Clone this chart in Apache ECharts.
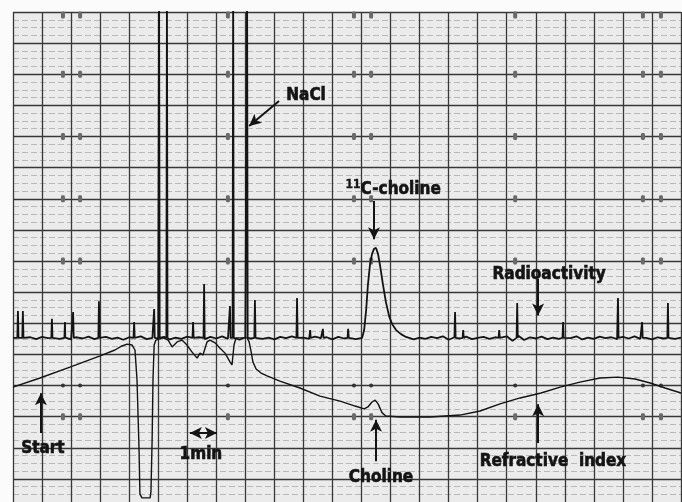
<!DOCTYPE html>
<html>
<head>
<meta charset="utf-8">
<title>11C-choline chromatogram</title>
<script src="https://cdn.jsdelivr.net/npm/echarts@6/dist/echarts.min.js"></script>
<style>
  html, body { margin: 0; padding: 0; background: #fbfbfb; }
  #chart { width: 682px; height: 502px; }
</style>
</head>
<body>
<div id="chart"></div>
<script>
// x: minutes (one chart division = 1 min), y: chart divisions from the bottom
var timeMax = 23
var levelMax = 16

var radioStep = 0.2
var radioBase = [
  5.53, 5.57, 5.50, 5.55, 5.49, 5.56, 5.52, 5.58, 5.50, 5.54,
  5.48, 5.55, 5.51, 5.57, 5.49, 5.53, 5.56, 5.50, 5.54, 5.47,
  5.55, 5.52, 5.58, 5.49, 5.53, 5.51, 5.56, 5.48, 5.54, 5.50,
  5.57, 5.52, 5.55, 5.49, 5.56, 5.51, 5.58, 5.50, 5.53, 5.47,
  5.55, 5.51, 5.57, 5.50, 5.54, 5.48, 5.56, 5.52, 5.58, 5.49,
  5.54, 5.50, 5.57, 5.52, 5.55, 5.48, 5.56, 5.51, 5.53, 5.49,
  5.55, 5.52, 5.57, 5.50, 5.54, 5.49, 5.56, 5.51, 5.58, 5.48,
  5.54, 5.50, 5.56, 5.52, 5.58, 5.47, 5.55, 5.51, 5.57, 5.49,
  5.53, 5.56, 5.50, 5.55, 5.49, 5.58, 5.44, 5.60, 5.46, 5.55,
  5.51, 5.57, 5.49, 5.54, 5.50, 5.56, 5.52, 5.58, 5.48, 5.54,
  5.50, 5.57, 5.52, 5.55, 5.49, 5.56, 5.51, 5.58, 5.50, 5.53,
  5.48, 5.55, 5.51, 5.57, 5.50, 5.54
]
var peakFrom = 11.99
var peakTo = 13.61

// 11C-choline peak [min, level]
var cholinePeak = [
  [12.02, 5.53], [12.09, 5.78], [12.16, 6.43], [12.22, 7.23], [12.29, 7.87],
  [12.36, 8.22], [12.43, 8.39], [12.50, 8.42], [12.57, 8.22], [12.64, 7.84],
  [12.74, 7.23], [12.84, 6.68], [12.95, 6.23], [13.05, 5.98], [13.19, 5.78],
  [13.36, 5.65], [13.53, 5.56]
]

// short spikes on the radioactivity trace [min, top]; 17 = off the paper (NaCl)
var spikeFloor = 5.53
var radioSpikes = [
  [0.17, 6.39], [0.34, 6.39], [1.34, 6.14], [1.79, 6.04], [2.07, 6.36],
  [2.96, 6.71], [4.17, 6.04], [4.86, 6.46], [5.03, 17], [5.30, 17],
  [6.20, 6.04], [6.58, 7.26], [7.47, 6.55], [7.58, 17], [8.06, 17],
  [8.33, 6.75], [9.78, 6.81], [10.23, 5.78], [10.67, 5.82], [11.54, 5.82],
  [15.22, 6.36], [15.50, 5.78], [16.74, 5.78], [17.36, 6.65], [18.94, 6.04],
  [20.83, 6.81], [21.66, 6.04], [22.55, 6.65]
]

// refractive index trace [min, level]
var refractive = [
  [0, 3.95], [0.93, 4.24], [1.96, 4.59], [3.00, 4.95], [3.51, 5.14],
  [3.75, 5.27], [3.93, 5.33], [4.10, 5.30], [4.20, 5.14], [4.27, 4.18],
  [4.34, 1.93], [4.37, 0.51], [4.44, 0.39], [4.72, 0.39], [4.75, 0.58],
  [4.79, 2.25], [4.82, 4.18], [4.86, 5.30], [4.92, 5.46], [5.17, 5.53],
  [5.34, 5.46], [5.48, 5.24], [5.65, 5.40], [5.82, 5.46], [5.99, 5.30],
  [6.16, 5.08], [6.34, 4.88], [6.44, 5.04], [6.54, 4.98], [6.68, 5.40],
  [6.78, 5.46], [6.96, 5.37], [7.13, 5.20], [7.30, 5.04], [7.47, 4.76],
  [7.54, 4.66], [7.61, 5.30], [7.68, 5.53], [8.06, 5.53], [8.13, 5.40],
  [8.20, 5.08], [8.26, 4.76], [8.37, 4.53], [8.54, 4.40], [8.75, 4.31],
  [9.19, 4.14], [9.88, 3.92], [10.57, 3.66], [11.26, 3.50], [11.78, 3.34],
  [12.09, 3.25], [12.22, 3.31], [12.36, 3.47], [12.47, 3.53], [12.57, 3.41],
  [12.71, 3.12], [12.84, 3.02], [13.33, 2.99], [14.36, 2.99], [15.39, 3.05],
  [16.08, 3.18], [16.77, 3.41], [17.46, 3.60], [18.18, 3.76], [18.84, 3.95],
  [19.52, 4.11], [20.21, 4.24], [20.83, 4.27], [21.42, 4.21], [21.94, 4.08],
  [22.45, 3.92], [23.00, 3.76]
]

// printed scale marks on the recorder paper
var paperCols = [1.72, 2.31, 7.40, 11.74, 12.33, 17.29, 21.69, 22.31]
var paperRows = [15.9, 14, 12, 10, 8]
var paperDotRow = 4
var paperTickRow = 3

// annotations
var labels = [
  { text: 'NaCl', at: [10.09, 13.33] },
  { text: '{sup|11}C-choline', at: [13.09, 10.31] },
  { text: 'Radioactivity', at: [18.46, 7.55] },
  { text: 'Start', at: [1.03, 1.96] },
  { text: '1min', at: [6.47, 1.77] },
  { text: 'Choline', at: [12.67, 1.03] },
  { text: 'Refractive  index', at: [18.59, 1.57] }
]
var arrows = [
  { from: [9.16, 13.14], to: [8.13, 12.34] },
  { from: [12.43, 9.93], to: [12.43, 8.70] },
  { from: [18.08, 7.42], to: [18.08, 6.25] },
  { from: [0.96, 2.47], to: [0.96, 3.75] },
  { from: [12.50, 1.57], to: [12.50, 2.90] },
  { from: [18.08, 2.15], to: [18.08, 3.40] },
  { from: [6.09, 2.47], to: [7.02, 2.47], both: true }
]

var ink = '#141414'
var font = "'Liberation Sans Narrow', 'DejaVu Sans Condensed', 'Roboto', sans-serif"

var radio = []
radioBase.forEach(function (v, i) {
  var t = +(i * radioStep).toFixed(2)
  if (t < peakFrom || t > peakTo) radio.push([t, v])
})
cholinePeak.forEach(function (p) { radio.push(p) })
radioSpikes.forEach(function (s) {
  radio.push([s[0] - 0.02, spikeFloor], [s[0], s[1]], [s[0] + 0.02, spikeFloor])
})
radio.sort(function (a, b) { return a[0] - b[0] })

var marks = []
var dots = []
paperCols.forEach(function (c) {
  paperRows.forEach(function (r) { marks.push([c, r]) })
  marks.push([c, paperTickRow])
  dots.push([c, paperDotRow])
})

var myChart = echarts.init(document.getElementById('chart'))
var option = {
  backgroundColor: '#fbfbfb',
  animation: false,
  grid: {
    left: 13,
    right: 1,
    top: 12,
    bottom: -8,
    show: true,
    backgroundColor: '#ebebeb',
    borderWidth: 0,
    outerBoundsMode: 'none'
  },
  xAxis: {
    type: 'value',
    min: 0,
    max: timeMax,
    interval: 1,
    axisLine: { show: false },
    axisTick: { show: false },
    axisLabel: { show: false },
    splitLine: { show: true, lineStyle: { color: '#383838', width: 1.3 } }
  },
  yAxis: {
    type: 'value',
    min: 0,
    max: levelMax,
    interval: 1,
    axisLine: { show: false },
    axisTick: { show: false },
    axisLabel: { show: false },
    splitLine: { show: true, lineStyle: { color: '#383838', width: 1.3 } },
    minorTick: { show: false, splitNumber: 4 },
    minorSplitLine: { show: true, lineStyle: { color: '#b8b8b8', width: 1, type: [6, 3] } }
  },
  series: [
    {
      name: 'paper marks',
      type: 'scatter',
      symbol: 'roundRect',
      symbolSize: [4, 7],
      itemStyle: { color: '#6a6a6a', opacity: 1 },
      silent: true,
      data: marks
    },
    {
      name: 'paper dots',
      type: 'scatter',
      symbol: 'circle',
      symbolSize: 4,
      itemStyle: { color: '#333', opacity: 1 },
      silent: true,
      data: dots
    },
    {
      name: 'Refractive index',
      type: 'line',
      symbol: 'none',
      lineStyle: { color: ink, width: 1.4 },
      data: refractive,
      markLine: {
        silent: true,
        symbol: ['none', 'arrow'],
        symbolSize: [9, 12],
        label: { show: false },
        lineStyle: { color: ink, width: 2, type: 'solid' },
        data: arrows.map(function (a) {
          return [
            { coord: a.from, symbol: a.both ? 'arrow' : 'none' },
            { coord: a.to, symbol: 'arrow' }
          ]
        })
      }
    },
    {
      name: 'Radioactivity',
      type: 'line',
      symbol: 'none',
      lineStyle: { color: ink, width: 1.8 },
      data: radio
    },
    {
      name: 'labels',
      type: 'scatter',
      symbolSize: 0,
      silent: true,
      itemStyle: { opacity: 1 },
      data: labels.map(function (l) { return { value: l.at, name: l.text } }),
      label: {
        show: true,
        position: 'inside',
        formatter: '{b}',
        color: ink,
        fontFamily: font,
        fontWeight: 'bold',
        fontSize: 17,
        textBorderColor: ink,
        textBorderWidth: 0.6,
        rich: {
          sup: {
            fontFamily: font,
            fontWeight: 'bold',
            fontSize: 12,
            color: ink,
            textBorderColor: ink,
            textBorderWidth: 0.4,
            padding: [0, 0, 8, 0]
          }
        }
      }
    }
  ]
}
myChart.setOption(option)
</script>
</body>
</html>
